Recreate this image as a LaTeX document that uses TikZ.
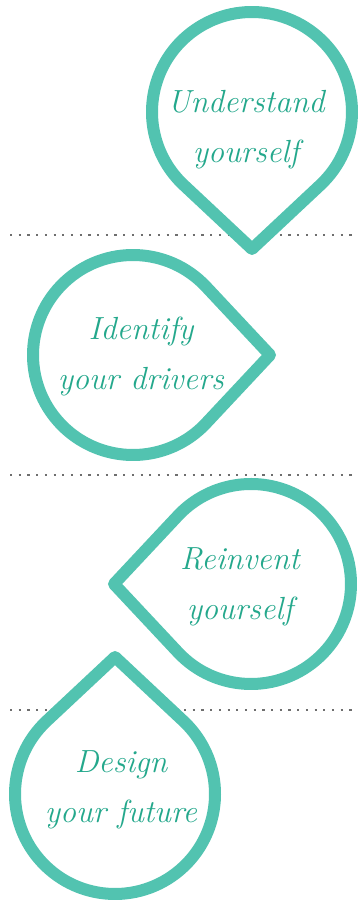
\documentclass[tikz,border=0pt]{standalone}
\definecolor{dropTeal}{RGB}{82,195,176}
\definecolor{dropText}{RGB}{36,168,140}
\definecolor{dotGray}{RGB}{110,110,110}
\tikzset{
  droplabel/.style={text=dropText, align=center, inner sep=0pt,
    font=\fontsize{32}{50}\selectfont\itshape},
}
\begin{document}
\begin{tikzpicture}[x=1pt, y=1pt]
% Teardrop geometry (circle radius, tip distance, tangent angle)
\def\dropr{100}
\def\droptip{137}
\def\dropang{43.1}
\providecommand{\dropLineWidth}{12pt}
\useasboundingbox (0,0) rectangle (358,902);
% Dotted separators
\begin{scope}[draw=dotGray, line width=2.2pt, dash pattern=on 2.2pt off 6.5pt]
  \draw (10,667) -- (358,667);
  \draw (10,427) -- (358,427);
  \draw (10,192) -- (358,192);
\end{scope}
% Drops, white inside so they hide the dots
\begin{scope}[draw=dropTeal, fill=white, line width=\dropLineWidth, line join=round]
  \filldraw[shift={(252,790)}, rotate=-90] (\droptip,0) -- (\dropang:\dropr) arc[start angle=\dropang, end angle=360-\dropang, radius=\dropr] -- cycle;
  \filldraw[shift={(133,547)}, rotate=0] (\droptip,0) -- (\dropang:\dropr) arc[start angle=\dropang, end angle=360-\dropang, radius=\dropr] -- cycle;
  \filldraw[shift={(251,318)}, rotate=180] (\droptip,0) -- (\dropang:\dropr) arc[start angle=\dropang, end angle=360-\dropang, radius=\dropr] -- cycle;
  \filldraw[shift={(115,108)}, rotate=90] (\droptip,0) -- (\dropang:\dropr) arc[start angle=\dropang, end angle=360-\dropang, radius=\dropr] -- cycle;
\end{scope}
% Labels
\node[droplabel] (understand) at (246,772) {Understand\\yourself};
\node[droplabel] (identify) at (141,545) {Identify\\your drivers};
\node[droplabel] (reinvent) at (240,315) {Reinvent\\yourself};
\node[droplabel] (design) at (121,112) {Design\\your future};
\end{tikzpicture}
\end{document}
